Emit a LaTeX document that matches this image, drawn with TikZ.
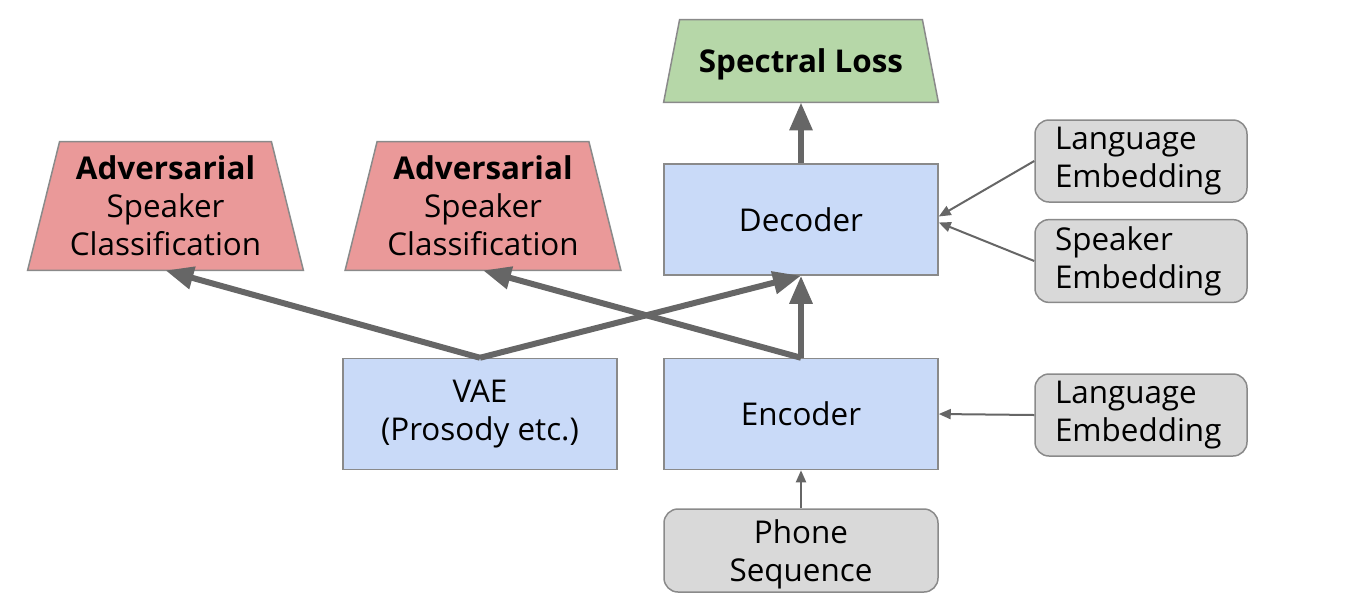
\documentclass[tikz,border=0pt]{standalone}
\usepackage{fontspec}
\setmainfont{Open Sans}
\usetikzlibrary{positioning, arrows.meta, backgrounds}

\definecolor{netblue}{HTML}{C9DAF8}
\definecolor{advred}{HTML}{EA9999}
\definecolor{lossgreen}{HTML}{B6D7A8}
\definecolor{embgray}{HTML}{D9D9D9}
\definecolor{edgegray}{HTML}{8A8A8A}
\definecolor{flowgray}{HTML}{666666}

\begin{document}
\begin{tikzpicture}[x=0.5pt, y=-0.5pt,
    txt/.style={font=\fontsize{15.7}{19}\selectfont, align=center},
    sunk/.style={text depth=-2pt},
    netbox/.style={txt, draw=edgegray, line width=0.75pt, fill=netblue, minimum width=137pt, minimum height=55.5pt},
    embbox/.style={txt, draw=edgegray, line width=0.75pt, fill=embgray, rounded corners=7pt},
    lossbox/.style={txt, sunk, inner sep=0pt},
    trapline/.style={draw=edgegray, line width=0.75pt},
    thickflow/.style={draw=flowgray, line width=3pt, -{Triangle[length=14pt, width=11pt]}},
    thinflow/.style={draw=flowgray, line width=1pt, -{Triangle[length=6pt, width=5pt]}}]

  \useasboundingbox (0,0) rectangle (1354,612);

  % losses
  \node (spec) [lossbox, minimum width=137pt, minimum height=41pt] at (801,61) {\textbf{Spectral Loss}};
  \node (advA) [lossbox, minimum width=137.5pt, minimum height=64pt] at (165.5,206) {\textbf{Adversarial}\\Speaker\\Classification};
  \node (advB) [lossbox, minimum width=137.5pt, minimum height=64pt] at (483,206) {\textbf{Adversarial}\\Speaker\\Classification};

  \begin{scope}[on background layer]
    \path[trapline, fill=lossgreen] ([xshift=8pt]spec.north west) -- ([xshift=-8pt]spec.north east)
      -- (spec.south east) -- (spec.south west) -- cycle;
    \path[trapline, fill=advred] ([xshift=16pt]advA.north west) -- ([xshift=-16pt]advA.north east)
      -- (advA.south east) -- (advA.south west) -- cycle;
    \path[trapline, fill=advred] ([xshift=16pt]advB.north west) -- ([xshift=-16pt]advB.north east)
      -- (advB.south east) -- (advB.south west) -- cycle;
  \end{scope}

  % networks
  \node (dec) [netbox] at (801,219.5) {Decoder};
  \node (enc) [netbox] at (801,414) {Encoder};
  \node (vae) [netbox] at (480,414) {VAE\\(Prosody etc.)};

  % inputs
  \node (langD) [embbox, minimum width=106pt, minimum height=41pt, text width=86pt, align=left] at (1141,161) {Language\\Embedding};
  \node (spkD) [embbox, minimum width=106pt, minimum height=41pt, text width=86pt, align=left] at (1141,261) {Speaker\\Embedding};
  \node (langE) [embbox, minimum width=106pt, minimum height=41pt, text width=86pt, align=left] at (1141,415) {Language\\Embedding};
  \node (phone) [embbox, sunk, minimum width=137pt, minimum height=41.5pt] at (801,550.5) {Phone\\Sequence};

  \path[thickflow] (dec.north) -- (spec.south);
  \path[thickflow] (enc.north) -- (dec.south);
  \path[thickflow] (vae.north) -- (dec.south);
  \path[thickflow] (vae.north) -- (advA.south);
  \path[thickflow] (enc.north) -- (advB.south);

  \path[thinflow] (langD.west) -- ([yshift=1.5pt]dec.east);
  \path[thinflow] (spkD.west) -- ([yshift=-1.5pt]dec.east);
  \path[thinflow] (langE.west) -- (enc.east);
  \path[thinflow] (phone.north) -- (enc.south);
\end{tikzpicture}
\end{document}
